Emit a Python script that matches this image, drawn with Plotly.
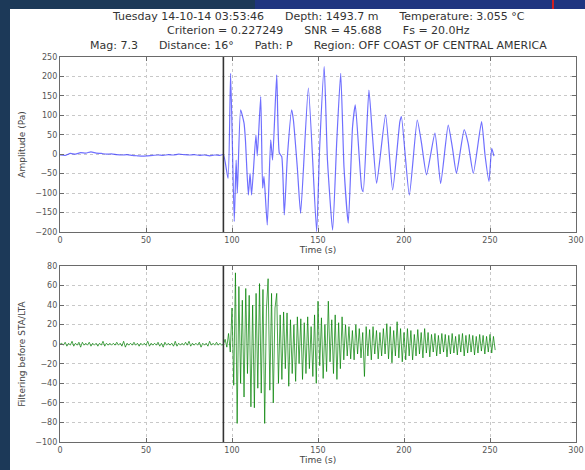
import numpy as np
import plotly.graph_objects as go
from plotly.subplots import make_subplots

# ---- data ----
blue_time = [0, 3, 6, 9, 12, 15, 18, 21, 24, 27, 30, 33, 36, 39, 42, 45, 48, 51, 54, 57,
             60, 63, 66, 69, 72, 75, 78, 81, 84, 87, 90, 93, 95,
             97.7, 99.2, 101.3, 102.4, 103.1, 105.0, 107.0, 107.8, 109.5, 110.5, 111.4,
             113.9, 114.7, 116.7, 117.8, 118.6, 120.5, 122.5, 123.6, 126.0, 127.5, 128.9,
             130.4, 132.2, 134.7, 135.7, 138.0, 139.9, 144.4, 149.2, 150.9, 153.6, 155.5,
             158.5, 160.9, 163.2, 165.1, 167.6, 170.1, 171.7, 175.4, 176.3, 179.6, 181.7,
             184.1, 189.3, 193.4, 197.6, 198.5, 203.1, 207.7, 210.2, 213.1, 218.0, 221.3,
             225.7, 228.2, 230.5, 235.0, 237.3, 240.3, 245.1, 247.1, 249.4, 251.0, 252.3]
blue_amp = [-2, -3, 2, 0, 4, 3, 6, 3, 2, 0, 1, -1, -2, -1, -3, -4, -5, -4, -3, -2,
            -3, -1, -2, 0, -1, -2, -1, -3, -2, -4, -2, -3, -1,
            -62, 208, -173, -15, -100, 114, 80, 37, -105, -49, -105,
            50, -4, 148, -87, -57, -182, 37, -15, 204, 3, -6,
            -156, -6, 114, 88, -36, -152, 170, -199, 11, 225, -15,
            -195, 33, 208, -32, -177, 71, 127, -87, -96, 165, 45,
            -75, 101, -92, 84, 97, -105, 88, 28, -53, 54, -75,
            75, 15, -49, 63, 28, -49, 84, -2, -70, 15, -5]

green_time = list(range(0, 254))
green_pre = [0, 1, -1, 2, -2, 1, -1, 3, -2, 1,
             -1, 2, -3, 2, -1, 1, -1, 2, -2, 1,
             -1, 1, -2, 1, -1, 3, -2, 1, -1, 1,
             -1, 1, -1, 2, -1, 1, -2, 3, -3, 1,
             -1, 1, -1, 2, -1, 1, -2, 1, -1, 1,
             -1, 3, -2, 1, -1, 1, -1, 2, -2, 1,
             -3, 2, -1, 1, -1, 1, -2, 3, -2, 1,
             -1, 1, -1, 2, -1, 3, -2, 1, -1, 1,
             -1, 2, -3, 1, -1, 1, -2, 3, -1, 1,
             -1, 2, -1, 1, -1]
green_sig = [0, 5, -3, 11, -8, 37, -42, 73, -81, 59,
             -40, 45, -54, 57, -30, 50, -64, 40, -65, 52,
             -45, 62, -50, 56, -81, 35, 67, -47, 52, -60,
             37, 52, -40, 30, -36, 33, -25, 32, -43, 25,
             -30, 20, -38, 28, -20, 26, -36, 22, -30, 28,
             -25, 18, -33, 30, -40, 44, -22, 27, -35, 20,
             -28, 44, -18, 25, -30, 30, -36, 22, -25, 28,
             -16, 20, -12, 18, -15, 14, -16, 20, -10, 16,
             -14, 12, -33, 18, -12, 15, -16, 18, -10, 14,
             -15, 12, -12, 16, -10, 21, -15, 18, -19, 14,
             -12, 23, -14, 16, -18, 12, -16, 16, -12, 14,
             -16, 10, -12, 15, -10, 12, -14, 16, -9, 12,
             -13, 10, -8, 11, -12, 9, -10, 11, -8, 10,
             -13, 9, -10, 11, -9, 8, -11, 10, -8, 11,
             -12, 9, -9, 10, -8, 9, -11, 8, -9, 10,
             -7, 9, -10, 8, -8, 10, -9, 8, -6]
green_vals = green_pre + green_sig

pick_time = 95
x_ticks = [0, 50, 100, 150, 200, 250, 300]
title_lines = [
    "Tuesday 14-10-14 03:53:46      Depth: 1493.7 m      Temperature: 3.055 °C",
    "Criterion = 0.227249      SNR = 45.688      Fs = 20.0Hz",
    "Mag: 7.3      Distance: 16°      Path: P      Region: OFF COAST OF CENTRAL AMERICA",
]

# ---- figure ----
W, H = 585, 470
ML, MR, MT, MB = 60, 9, 57, 28
PW, PH = W - ML - MR, H - MT - MB

def px2x(px):
    return (px - ML) / PW

def py2y(py):
    return (H - MB - py) / PH

fig = make_subplots(rows=2, cols=1)
fig.add_trace(go.Scatter(x=blue_time, y=blue_amp, mode="lines",
                         line=dict(color="rgba(50,50,255,0.7)", width=1.2,
                                   shape="spline", smoothing=0.5),
                         showlegend=False), row=1, col=1)
fig.add_trace(go.Scatter(x=green_time, y=green_vals, mode="lines",
                         line=dict(color="rgba(0,128,0,0.7)", width=1),
                         showlegend=False), row=2, col=1)

font_family = "DejaVu Sans, Liberation Sans, sans-serif"
axis_common = dict(showgrid=True, gridcolor="#c8c8c8", griddash="dot", gridwidth=1,
                   showline=True, linecolor="#6a6a6a", linewidth=1.2, mirror="ticks",
                   ticks="inside", ticklen=4, tickcolor="#6a6a6a",
                   tickfont=dict(size=8, color="#555", family=font_family),
                   zeroline=False, automargin=False)

fig.update_xaxes(range=[0, 300], tickvals=x_ticks, **axis_common)
fig.update_yaxes(**axis_common)
tfont = dict(size=9, color="#444", family=font_family)
fig.update_layout(
    xaxis=dict(domain=[0, 1], anchor="y",
               title=dict(text="Time (s)", standoff=2, font=tfont)),
    yaxis=dict(domain=[py2y(232), 1], range=[-200, 250], dtick=50,
               title=dict(text="Amplitude (Pa)", standoff=8, font=tfont)),
    xaxis2=dict(domain=[0, 1], anchor="y2",
                title=dict(text="Time (s)", standoff=2, font=tfont)),
    yaxis2=dict(domain=[0, py2y(266)], range=[-100, 80], dtick=20,
                title=dict(text="Filtering before STA/LTA", standoff=8, font=tfont)),
)

shapes = [
    # white panel over the dark frame
    dict(type="rect", xref="paper", yref="paper", layer="below",
         x0=px2x(10), x1=px2x(W + 5), y0=py2y(H + 5), y1=py2y(9),
         fillcolor="white", line=dict(width=0)),
    # blue strip at top right
    dict(type="rect", xref="paper", yref="paper", layer="below",
         x0=px2x(255), x1=px2x(W + 5), y0=py2y(9), y1=py2y(-5),
         fillcolor="#1f3580", line=dict(width=0)),
    dict(type="rect", xref="paper", yref="paper", layer="below",
         x0=px2x(552), x1=px2x(554), y0=py2y(9), y1=py2y(-5),
         fillcolor="#d02020", line=dict(width=0)),
    # pick line
    dict(type="line", xref="x", yref="y domain", x0=pick_time, x1=pick_time, y0=0, y1=1,
         line=dict(color="#333", width=1.6)),
    dict(type="line", xref="x2", yref="y2 domain", x0=pick_time, x1=pick_time, y0=0, y1=1,
         line=dict(color="#333", width=1.6)),
]

annotations = []
for text, py in zip(title_lines, [17, 31, 45]):
    annotations.append(dict(text=text, xref="paper", yref="paper", x=0.5, y=py2y(py),
                            xanchor="center", yanchor="middle", showarrow=False,
                            font=dict(size=11, color="#333", family=font_family)))

fig.update_layout(
    width=W, height=H,
    margin=dict(l=ML, r=MR, t=MT, b=MB),
    paper_bgcolor="#1c3958",
    plot_bgcolor="white",
    shapes=shapes,
    annotations=annotations,
    showlegend=False,
)

fig.write_html("out.html", config={"displayModeBar": False},
               post_script="document.body.style.margin='0';document.body.style.background='#1c3958';")
